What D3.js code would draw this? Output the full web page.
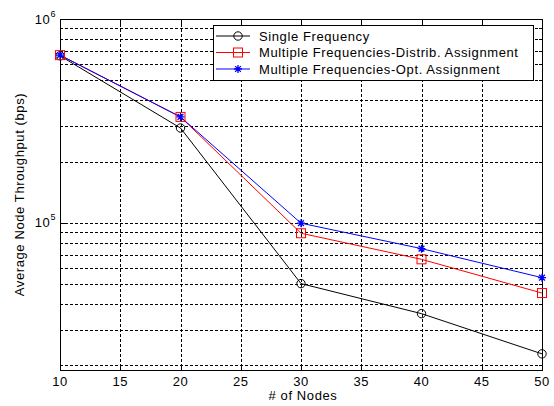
<!DOCTYPE html>
<html>
<head>
<meta charset="utf-8">
<script src="https://cdn.jsdelivr.net/npm/d3@7/dist/d3.min.js"></script>
<style>
  html, body { margin: 0; padding: 0; background: #fff; }
  svg { display: block; font-family: "Liberation Sans", Arial, sans-serif; }
  .lbl { font-size: 13px; letter-spacing: 0.6px; fill: #000; }
</style>
</head>
<body>
<svg id="chart" width="554" height="406"></svg>
<script>
// Number of nodes on the x axis
const nodes = [10, 20, 30, 40, 50];

// Average node throughput (bps) for each scheme
const singleFreq = [660000, 292000, 50400, 35900, 22800];
const multiDistrib = [665000, 331000, 89000, 66300, 45300];
const multiOpt = [665000, 331000, 99700, 74800, 53900];

const seriesNames = [
  "Single Frequency",
  "Multiple Frequencies-Distrib. Assignment",
  "Multiple Frequencies-Opt. Assignment"
];

const xTicks = [10, 15, 20, 25, 30, 35, 40, 45, 50];
const yDecades = [1e5, 1e6];

const series = [
  { name: seriesNames[0], values: singleFreq, color: "#000000", marker: "circle" },
  { name: seriesNames[1], values: multiDistrib, color: "#ff0000", marker: "square" },
  { name: seriesNames[2], values: multiOpt, color: "#0000ff", marker: "star" }
];

const svg = d3.select("#chart");
const pL = 60, pR = 542, pT = 19, pB = 370;

const x = d3.scaleLinear().domain([10, 50]).range([pL, pR]);
const y = d3.scaleLog().domain([19000, 1e6]).range([pB, pT]);

// minor log positions inside the domain
const minorTicks = [];
for (let d = 1e4; d < 1e6; d *= 10) {
  for (let m = 1; m <= 9; m++) {
    const v = d * m;
    if (v >= 19000 && v <= 1e6) minorTicks.push(v);
  }
}
minorTicks.push(1e6);

const g = svg.append("g");

// plot background
g.append("rect").attr("x", pL).attr("y", pT)
  .attr("width", pR - pL).attr("height", pB - pT).attr("fill", "#fff");

// grid lines
const grid = g.append("g").attr("stroke", "#000").attr("stroke-width", 1)
  .attr("stroke-dasharray", "3,2").attr("shape-rendering", "crispEdges");
xTicks.slice(1, -1).forEach(t => {
  grid.append("line").attr("x1", Math.round(x(t)) + 0.5).attr("x2", Math.round(x(t)) + 0.5)
    .attr("y1", pT).attr("y2", pB);
});
minorTicks.filter(v => v < 1e6).forEach(v => {
  grid.append("line").attr("x1", pL).attr("x2", pR)
    .attr("y1", Math.round(y(v)) + 0.5).attr("y2", Math.round(y(v)) + 0.5);
});

// axes (ticks inward, box with ticks on all sides)
const axes = g.append("g").attr("stroke", "#000").attr("shape-rendering", "crispEdges");
axes.append("rect").attr("x", pL + 0.5).attr("y", pT + 0.5)
  .attr("width", pR - pL).attr("height", pB - pT)
  .attr("fill", "none").attr("stroke-width", 1);
xTicks.forEach(t => {
  const px = Math.round(x(t)) + 0.5;
  axes.append("line").attr("x1", px).attr("x2", px).attr("y1", pB).attr("y2", pB - 5);
  axes.append("line").attr("x1", px).attr("x2", px).attr("y1", pT).attr("y2", pT + 5);
});
minorTicks.forEach(v => {
  const py = Math.round(y(v)) + 0.5;
  const len = yDecades.includes(v) ? 6 : 3;
  axes.append("line").attr("x1", pL).attr("x2", pL + len).attr("y1", py).attr("y2", py);
  axes.append("line").attr("x1", pR).attr("x2", pR - len).attr("y1", py).attr("y2", py);
});

// x tick labels
g.append("g").selectAll("text").data(xTicks).join("text")
  .attr("class", "lbl")
  .attr("x", d => x(d)).attr("y", pB + 16)
  .attr("text-anchor", "middle")
  .text(d => d);

// y tick labels as 10 with superscript exponent
yDecades.forEach(v => {
  const t = g.append("text").attr("class", "lbl").attr("x", pL - 4).attr("y", y(v) + 4.5)
    .attr("text-anchor", "end");
  t.append("tspan").text("10");
  t.append("tspan").attr("font-size", 9).attr("dy", -7).text(Math.round(Math.log10(v)));
});

// axis titles
g.append("text").attr("class", "lbl").attr("x", (pL + pR) / 2 + 2).attr("y", 400)
  .attr("text-anchor", "middle").text("# of Nodes");
g.append("text").attr("class", "lbl")
  .attr("transform", `translate(24,${(pT + pB) / 2}) rotate(-90)`)
  .attr("text-anchor", "middle").text("Average Node Throughput (bps)");

// marker drawing
function drawMarker(sel, type, color, cx, cy) {
  if (type === "circle") {
    sel.append("circle").attr("cx", cx).attr("cy", cy).attr("r", 4.2)
      .attr("fill", "none").attr("stroke", color).attr("stroke-width", 1);
  } else if (type === "square") {
    sel.append("rect").attr("x", cx - 4.5).attr("y", cy - 4.5).attr("width", 9).attr("height", 9)
      .attr("fill", "none").attr("stroke", color).attr("stroke-width", 1);
  } else {
    const r = 4, d = r * 0.72;
    const p = `M${cx - r},${cy}L${cx + r},${cy}M${cx},${cy - r}L${cx},${cy + r}` +
      `M${cx - d},${cy - d}L${cx + d},${cy + d}M${cx - d},${cy + d}L${cx + d},${cy - d}`;
    sel.append("path").attr("d", p).attr("stroke", color).attr("stroke-width", 1.3).attr("fill", "none");
  }
}

const line = d3.line().x((d, i) => x(nodes[i])).y(d => y(d));
const plot = g.append("g");
series.forEach(s => {
  plot.append("path").datum(s.values).attr("d", line)
    .attr("fill", "none").attr("stroke", s.color).attr("stroke-width", 1);
});
series.forEach(s => {
  s.values.forEach((v, i) => drawMarker(plot, s.marker, s.color, x(nodes[i]), y(v)));
});

// legend
const lg = g.append("g");
lg.append("rect").attr("x", 213.5).attr("y", 25.5).attr("width", 320).attr("height", 55)
  .attr("fill", "#fff").attr("stroke", "#000").attr("shape-rendering", "crispEdges");
series.forEach((s, i) => {
  const cy = 36 + i * 16.5;
  lg.append("line").attr("x1", 216).attr("x2", 250).attr("y1", cy).attr("y2", cy)
    .attr("stroke", s.color).attr("stroke-width", 1);
  drawMarker(lg, s.marker, s.color, 238, cy);
  lg.append("text").attr("class", "lbl").attr("x", 259).attr("y", cy + 4.5).text(s.name);
});
</script>
</body>
</html>
